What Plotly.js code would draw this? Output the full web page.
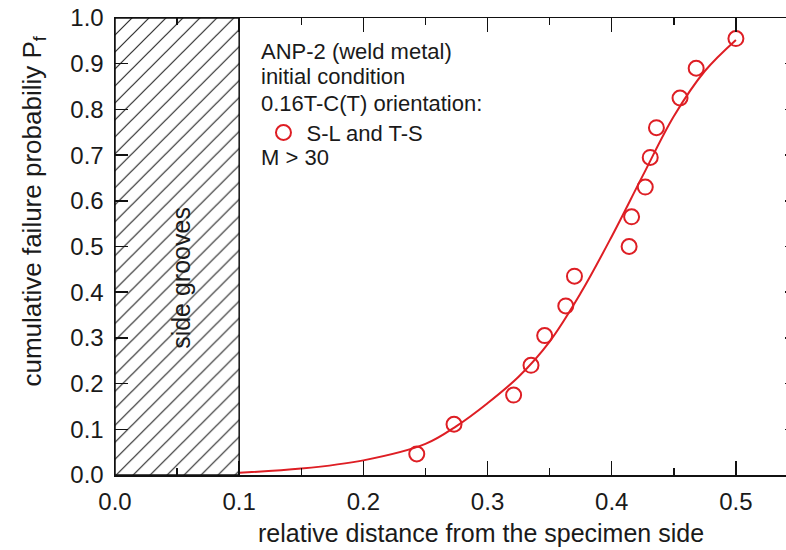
<!DOCTYPE html>
<html>
<head>
<meta charset="utf-8">
<script src="https://cdn.plot.ly/plotly-3.0.1.min.js"></script>
<style>
html, body { margin:0; padding:0; overflow:hidden; background:#fff; }
#chart { width:800px; height:550px; }
</style>
</head>
<body>
<div id="chart"></div>
<script>
// measured data points (relative distance, cumulative failure probability)
const pointsX = [0.243, 0.273, 0.321, 0.335, 0.346, 0.363, 0.370, 0.414, 0.416, 0.427, 0.431, 0.436, 0.455, 0.468, 0.500];
const pointsY = [0.046, 0.111, 0.175, 0.240, 0.305, 0.370, 0.435, 0.500, 0.565, 0.630, 0.695, 0.760, 0.825, 0.890, 0.955];
// fitted curve
const curveX = [0.100, 0.150, 0.200, 0.250, 0.275, 0.300, 0.325, 0.350, 0.375, 0.400, 0.425, 0.450, 0.475, 0.500];
const curveY = [0.005, 0.014, 0.032, 0.068, 0.107, 0.157, 0.215, 0.292, 0.398, 0.522, 0.655, 0.785, 0.884, 0.952];
// side-groove zone
const grooveStart = 0.0;
const grooveEnd = 0.1;
const pfMin = 0.0;
const pfMax = 1.0;
const xTicks = [0.0, 0.1, 0.2, 0.3, 0.4, 0.5];
const yTicks = [0.0, 0.1, 0.2, 0.3, 0.4, 0.5, 0.6, 0.7, 0.8, 0.9, 1.0];
const infoLines = ["ANP-2 (weld metal)", "initial condition", "0.16T-C(T) orientation:", "M > 30"];
const seriesName = "S-L and T-S";

const RED = "rgb(222,30,36)";
const FONT = "Arial, 'Liberation Sans', sans-serif";
const TXT = "#1a1a1a";

const traces = [
  {
    x: [grooveStart, grooveEnd, grooveEnd, grooveStart, grooveStart],
    y: [pfMin, pfMin, pfMax, pfMax, pfMin],
    mode: "lines", fill: "toself", fillcolor: "white",
    fillpattern: { shape: "/", fgcolor: "#2a2a2a", bgcolor: "white", size: 12, solidity: 0.1 },
    line: { color: "#111", width: 1.5 },
    showlegend: false, hoverinfo: "skip"
  },
  {
    x: curveX, y: curveY, mode: "lines",
    line: { color: RED, width: 2, shape: "spline", smoothing: 1 },
    showlegend: false
  },
  {
    x: pointsX, y: pointsY, mode: "markers", name: seriesName,
    marker: { symbol: "circle-open", size: 15, color: RED, line: { color: RED, width: 2 } }
  }
];

const yAnn = [0.926, 0.872, 0.814, 0.694];
const annotations = infoLines.map((t, i) => ({
  text: t, x: 0.1163, y: yAnn[i], xref: "x", yref: "y",
  xanchor: "left", yanchor: "middle", showarrow: false,
  font: { family: FONT, size: 22, color: TXT }
}));
annotations.push({
  text: "side grooves", x: 0.053, y: 0.431, xref: "x", yref: "y",
  textangle: -90, showarrow: false, font: { family: FONT, size: 25, color: TXT }
});
annotations.push({
  text: "cumulative failure probabiliy P<sub>f</sub>", x: -0.119, y: 0.578, xref: "paper", yref: "paper",
  textangle: -90, showarrow: false, xanchor: "center", yanchor: "middle",
  font: { family: FONT, size: 26, color: TXT }
});
annotations.push({
  text: "relative distance from the specimen side", x: 0.295, y: -0.127, xref: "x", yref: "paper",
  showarrow: false, xanchor: "center", yanchor: "middle",
  font: { family: FONT, size: 25, color: TXT }
});

const layout = {
  width: 800, height: 550,
  margin: { l: 114.5, r: 2, t: 18, b: 75 },
  paper_bgcolor: "white", plot_bgcolor: "white",
  font: { family: FONT, color: TXT },
  showlegend: true,
  legend: {
    x: 0.213, y: 0.749, xref: "paper", yref: "paper", xanchor: "left", yanchor: "middle",
    bgcolor: "rgba(0,0,0,0)", borderwidth: 0, itemwidth: 36,
    font: { family: FONT, size: 22, color: TXT }
  },
  xaxis: {
    range: [0, 0.55], tickvals: xTicks, ticktext: xTicks.map(v => v.toFixed(1)),
    ticks: "inside", ticklen: 14, tickwidth: 1.5, tickcolor: "#111",
    minor: { dtick: 0.05, tick0: 0, ticks: "inside", ticklen: 7, tickwidth: 1.5, tickcolor: "#111", showgrid: false },
    showline: true, linecolor: "#111", linewidth: 1.5, mirror: "allticks",
    showgrid: false, zeroline: false,
    tickfont: { family: FONT, size: 24, color: TXT }, ticklabelstandoff: 5
  },
  yaxis: {
    range: [0, 1.0], tickvals: yTicks, ticktext: yTicks.map(v => v.toFixed(1)),
    ticks: "inside", ticklen: 13, tickwidth: 1.5, tickcolor: "#111",
    showline: true, linecolor: "#111", linewidth: 1.5, mirror: "allticks",
    showgrid: false, zeroline: false,
    tickfont: { family: FONT, size: 24, color: TXT }, ticklabelstandoff: 5
  },
  annotations: annotations
};

Plotly.newPlot("chart", traces, layout, { displayModeBar: false, staticPlot: true });
</script>
</body>
</html>
